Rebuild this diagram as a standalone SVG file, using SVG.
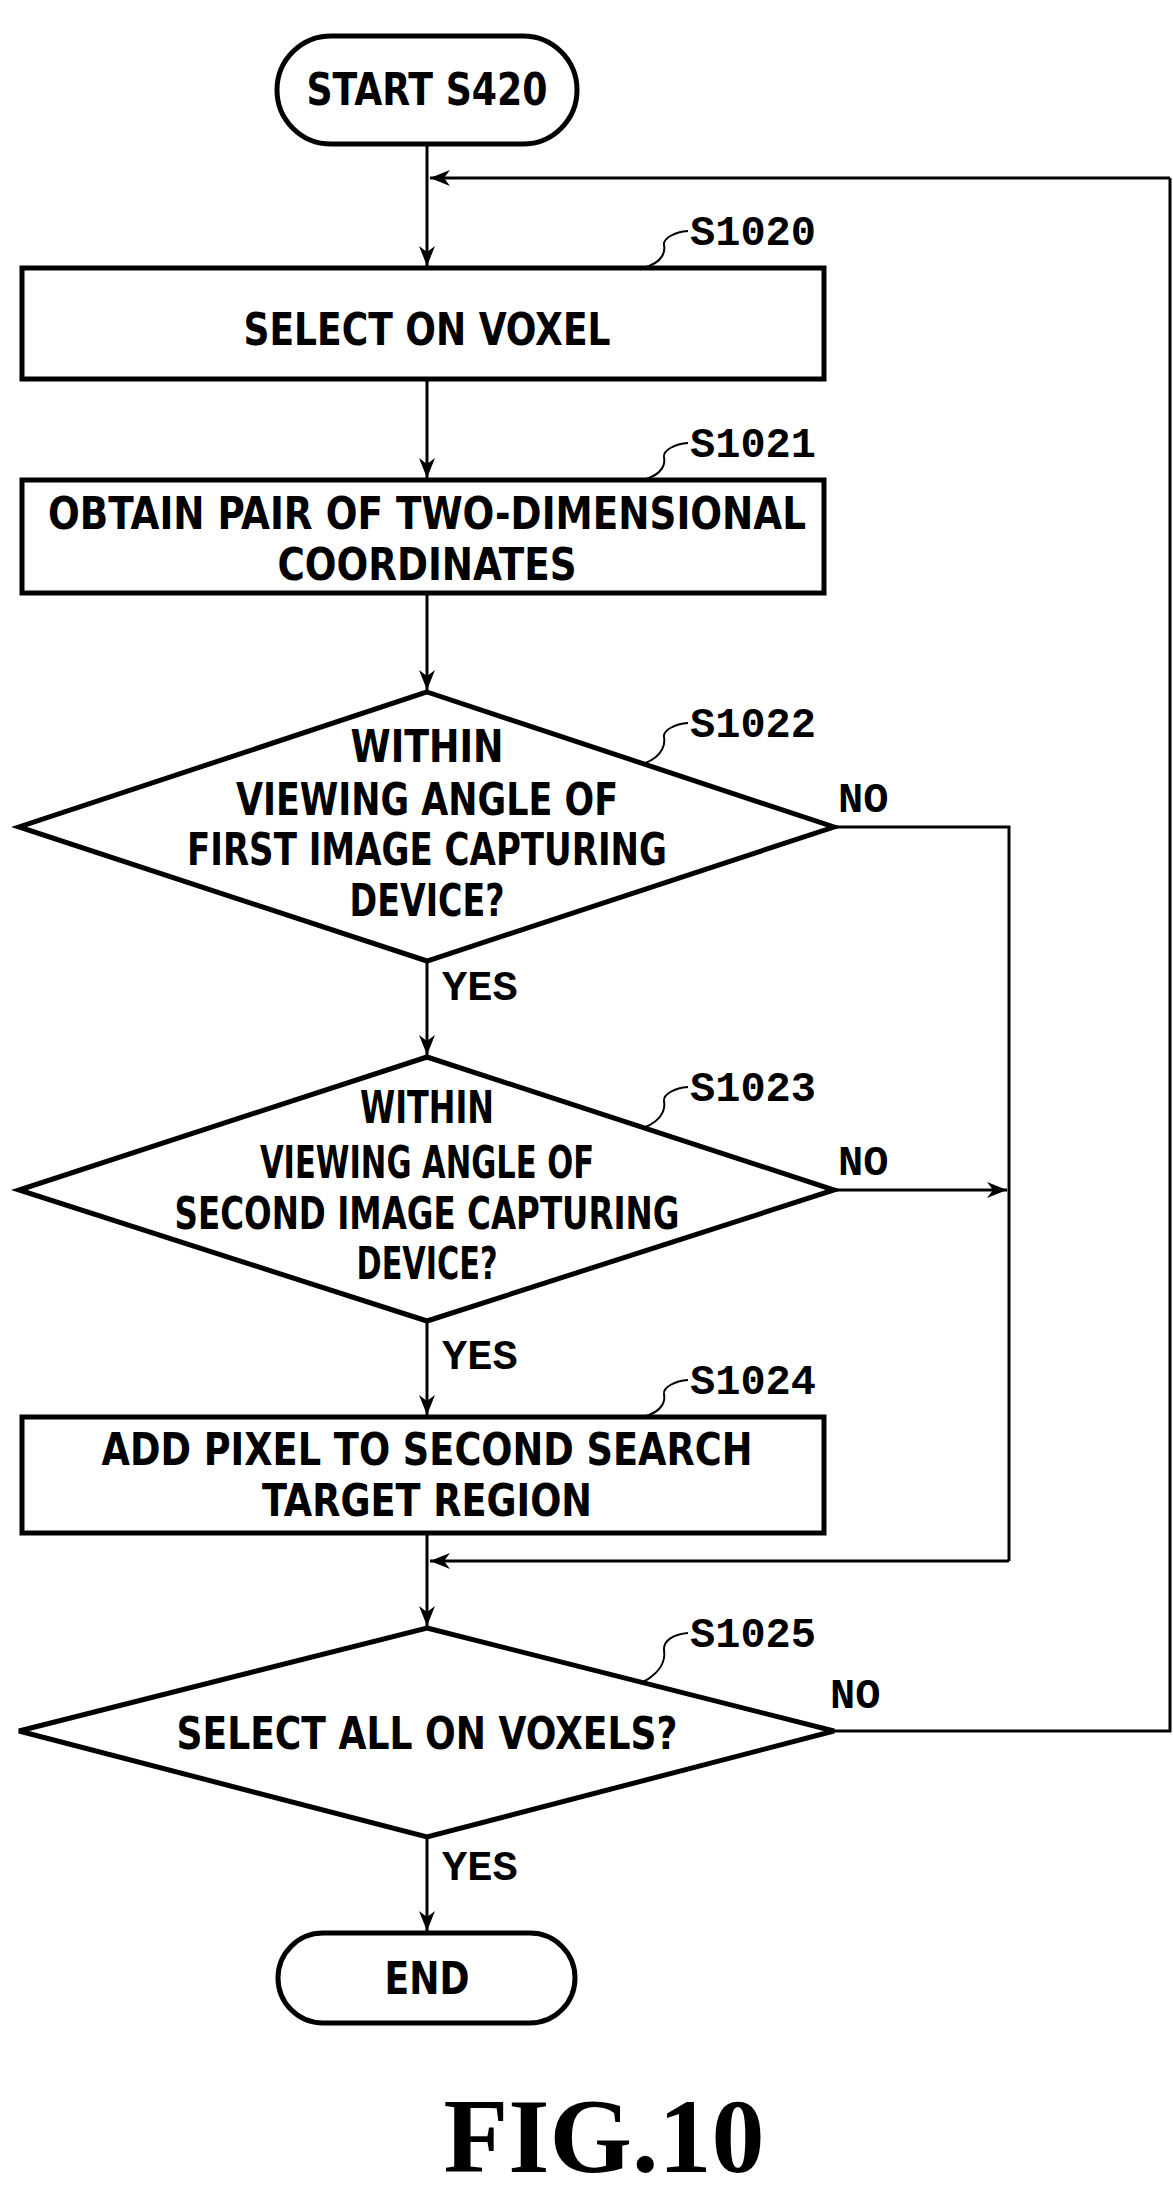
<svg xmlns="http://www.w3.org/2000/svg" width="1173" height="2195" viewBox="0 0 1173 2195">
<style>
.s{fill:#fff;stroke:#000;stroke-width:5}
.c{fill:none;stroke:#000;stroke-width:3}
.q{fill:none;stroke:#000;stroke-width:2}
.t{font-family:"DejaVu Sans",sans-serif;font-stretch:condensed;font-weight:bold;font-size:44px;text-anchor:middle}
.l{font-family:"Liberation Mono","Liberation Serif",monospace;font-weight:bold;font-size:42px}
.f{font-family:"Liberation Serif",serif;font-weight:bold;font-size:106px;text-anchor:middle}
</style>
<defs>
<marker id="a" viewBox="0 0 20 20" refX="20" refY="10" markerWidth="20" markerHeight="20" markerUnits="userSpaceOnUse" orient="auto">
<path d="M0,2 L20,10 L0,18 L6,10 Z" fill="#000"/>
</marker>
</defs>
<g id="connectors">
<line class="c" x1="427" y1="144" x2="427" y2="266" marker-end="url(#a)"/>
<line class="c" x1="427" y1="379" x2="427" y2="478" marker-end="url(#a)"/>
<line class="c" x1="427" y1="593" x2="427" y2="690" marker-end="url(#a)"/>
<line class="c" x1="427" y1="961" x2="427" y2="1055" marker-end="url(#a)"/>
<line class="c" x1="427" y1="1321" x2="427" y2="1415" marker-end="url(#a)"/>
<line class="c" x1="427" y1="1533" x2="427" y2="1626" marker-end="url(#a)"/>
<line class="c" x1="427" y1="1837" x2="427" y2="1931" marker-end="url(#a)"/>
<polyline class="c" points="834,827 1009,827 1009,1561"/>
<line class="c" x1="1009" y1="1561" x2="430" y2="1561" marker-end="url(#a)"/>
<line class="c" x1="834" y1="1190" x2="1007" y2="1190" marker-end="url(#a)"/>
<polyline class="c" points="834,1731 1170,1731 1170,178"/>
<line class="c" x1="1170" y1="178" x2="430" y2="178" marker-end="url(#a)"/>
<text class="l" x="838" y="812">NO</text>
<text class="l" x="838" y="1175">NO</text>
<text class="l" x="830" y="1708">NO</text>
<text class="l" x="442" y="1000">YES</text>
<text class="l" x="442" y="1369">YES</text>
<text class="l" x="442" y="1880">YES</text>
</g>
<g id="start">
<rect class="s" x="277" y="36" width="300" height="108" rx="54"/>
<text class="t" x="427" y="105" textLength="241" lengthAdjust="spacingAndGlyphs">START S420</text>
</g>
<g id="s1020">
<rect class="s" x="22" y="268" width="802" height="111"/>
<text class="t" x="427" y="345" textLength="367" lengthAdjust="spacingAndGlyphs">SELECT ON VOXEL</text>
<path class="q" d="M643,268 C665,262 665,250 664,245 C663,238 675,232 688,231"/>
<text class="l" x="690" y="245">S1020</text>
</g>
<g id="s1021">
<rect class="s" x="22" y="480" width="802" height="113"/>
<text class="t" x="427" y="529" textLength="758" lengthAdjust="spacingAndGlyphs">OBTAIN PAIR OF TWO-DIMENSIONAL</text>
<text class="t" x="427" y="580" textLength="299" lengthAdjust="spacingAndGlyphs">COORDINATES</text>
<path class="q" d="M643,480 C665,474 665,462 664,457 C663,450 675,444 688,443"/>
<text class="l" x="690" y="457">S1021</text>
</g>
<g id="s1022">
<polygon class="s" points="427,692 834,827 427,961 19,827"/>
<text class="t" x="427" y="762" textLength="153" lengthAdjust="spacingAndGlyphs">WITHIN</text>
<text class="t" x="427" y="815" textLength="382" lengthAdjust="spacingAndGlyphs">VIEWING ANGLE OF</text>
<text class="t" x="427" y="865" textLength="480" lengthAdjust="spacingAndGlyphs">FIRST IMAGE CAPTURING</text>
<text class="t" x="427" y="916" textLength="155" lengthAdjust="spacingAndGlyphs">DEVICE?</text>
<path class="q" d="M643,764 C665,756 665,742 664,737 C663,730 675,724 688,723"/>
<text class="l" x="690" y="737">S1022</text>
</g>
<g id="s1023">
<polygon class="s" points="427,1057 834,1190 427,1321 19,1190"/>
<text class="t" x="427" y="1123" textLength="134" lengthAdjust="spacingAndGlyphs">WITHIN</text>
<text class="t" x="427" y="1178" textLength="334" lengthAdjust="spacingAndGlyphs">VIEWING ANGLE OF</text>
<text class="t" x="427" y="1229" textLength="505" lengthAdjust="spacingAndGlyphs">SECOND IMAGE CAPTURING</text>
<text class="t" x="427" y="1279" textLength="141" lengthAdjust="spacingAndGlyphs">DEVICE?</text>
<path class="q" d="M643,1128 C665,1120 665,1106 664,1101 C663,1094 675,1088 688,1087"/>
<text class="l" x="690" y="1101">S1023</text>
</g>
<g id="s1024">
<rect class="s" x="22" y="1417" width="802" height="116"/>
<text class="t" x="427" y="1465" textLength="651" lengthAdjust="spacingAndGlyphs">ADD PIXEL TO SECOND SEARCH</text>
<text class="t" x="427" y="1516" textLength="330" lengthAdjust="spacingAndGlyphs">TARGET REGION</text>
<path class="q" d="M643,1417 C665,1411 665,1399 664,1394 C663,1387 675,1381 688,1380"/>
<text class="l" x="690" y="1394">S1024</text>
</g>
<g id="s1025">
<polygon class="s" points="427,1628 834,1731 427,1837 19,1731"/>
<text class="t" x="427" y="1749" textLength="501" lengthAdjust="spacingAndGlyphs">SELECT ALL ON VOXELS?</text>
<path class="q" d="M643,1682 C665,1670 665,1656 664,1650 C663,1640 675,1634 688,1633"/>
<text class="l" x="690" y="1647">S1025</text>
</g>
<g id="end">
<rect class="s" x="278" y="1933" width="297" height="90" rx="45"/>
<text class="t" x="427" y="1994" textLength="85" lengthAdjust="spacingAndGlyphs">END</text>
</g>
<text class="f" x="604" y="2172">FIG.10</text>
</svg>
